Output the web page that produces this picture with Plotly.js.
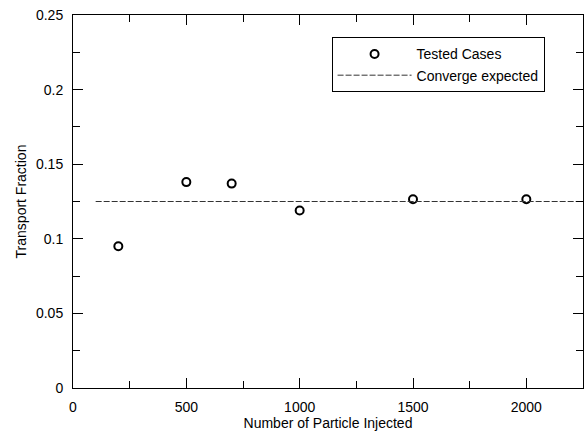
<!DOCTYPE html>
<html>
<head>
<meta charset="utf-8">
<script src="https://cdn.plot.ly/plotly-3.0.1.min.js"></script>
<style>html,body{margin:0;padding:0;background:#fff;}#chart{width:584px;height:434px;}</style>
</head>
<body>
<div id="chart"></div>
<script>
const particles = [200, 500, 700, 1000, 1500, 2000];
const fraction = [0.095, 0.138, 0.137, 0.119, 0.1265, 0.1265];
const convergeX = [100, 2250];
const convergeY = [0.125, 0.125];
const xTickVals = [0, 500, 1000, 1500, 2000];
const yTickVals = [0, 0.05, 0.1, 0.15, 0.2, 0.25];
const yTickText = ['0', '0.05', '0.1', '0.15', '0.2', '0.25'];

const FONT = '"Liberation Sans", Arial, Helvetica, sans-serif';

const traces = [
  {
    x: particles, y: fraction, type: 'scatter', mode: 'markers',
    name: 'Tested Cases',
    marker: {symbol: 'circle-open', size: 8, color: '#000', line: {width: 2, color: '#000'}}
  },
  {
    x: convergeX, y: convergeY, type: 'scatter', mode: 'lines',
    name: 'Converge expected',
    line: {color: '#333', width: 1, dash: '6px,2px'}
  }
];

const axisCommon = {
  showgrid: false, zeroline: false, showline: true, linecolor: '#000', linewidth: 1,
  mirror: 'ticks', ticks: 'inside', ticklen: 10, tickwidth: 1, tickcolor: '#000',
  tickfont: {family: FONT, size: 14, color: '#000'}
};

const layout = {
  width: 584, height: 434,
  margin: {l: 73, r: 1, t: 15, b: 46},
  paper_bgcolor: '#fff', plot_bgcolor: '#fff',
  font: {family: FONT, size: 14, color: '#000'},
  showlegend: true,
  legend: {
    x: 0.507, y: 0.94, xanchor: 'left', yanchor: 'top',
    bordercolor: '#000', borderwidth: 1, bgcolor: '#fff',
    font: {family: FONT, size: 14, color: '#000'},
    itemwidth: 74
  },
  xaxis: Object.assign({}, axisCommon, {
    range: [0, 2250], tickvals: xTickVals,
    minor: {ticks: 'inside', ticklen: 7, dtick: 250, tick0: 0, tickcolor: '#000', tickwidth: 1},
    ticklabelstandoff: 6,
    title: {text: 'Number of Particle Injected', font: {family: FONT, size: 14, color: '#000'}, standoff: 4}
  }),
  yaxis: Object.assign({}, axisCommon, {
    range: [0, 0.25], tickvals: yTickVals, ticktext: yTickText,
    minor: {ticks: 'inside', ticklen: 7, dtick: 0.025, tick0: 0, tickcolor: '#000', tickwidth: 1},
    ticklabelstandoff: 6,
    title: {text: 'Transport Fraction', font: {family: FONT, size: 14, color: '#000'}, standoff: 6}
  })
};

Plotly.newPlot('chart', traces, layout, {displayModeBar: false, staticPlot: true});
</script>
</body>
</html>
